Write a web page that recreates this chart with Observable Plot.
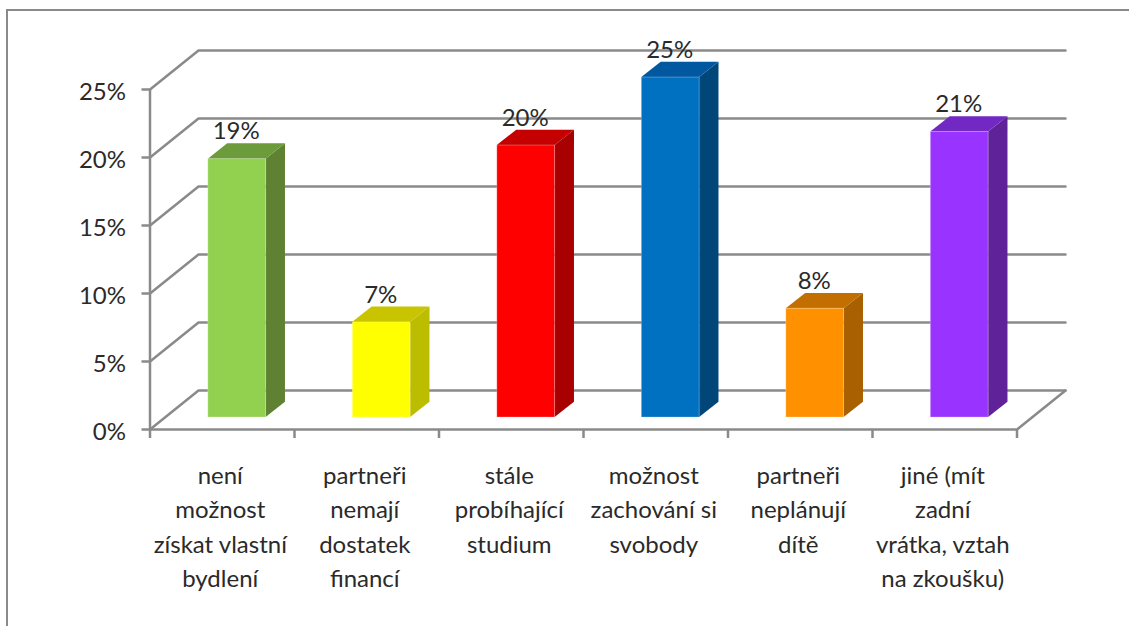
<!DOCTYPE html>
<html><head><meta charset="utf-8">
<script src="https://cdn.jsdelivr.net/npm/d3@7"></script>
<script src="https://cdn.jsdelivr.net/npm/@observablehq/plot@0.6"></script>
<style>
html,body{margin:0;padding:0;background:#fff;overflow:hidden}
#frame{position:absolute;left:6px;top:9px;right:-10px;bottom:-10px;border-left:2.5px solid #8a8a8a;border-top:2.5px solid #8a8a8a}
#chart{position:absolute;left:0;top:0}
</style></head><body>
<div id="frame"></div><div id="chart"></div>
<script>
const categories = [
  "není\nmožnost\nzískat vlastní\nbydlení",
  "partneři\nnemají\ndostatek\nfinancí",
  "stále\nprobíhající\nstudium",
  "možnost\nzachování si\nsvobody",
  "partneři\nneplánují\ndítě",
  "jiné (mít\nzadní\nvrátka, vztah\nna zkoušku)"
];
const values = [19, 7, 20, 25, 8, 21];
const yTicks = [0, 5, 10, 15, 20, 25];
const frontColors = ["#92D050", "#FFFF00", "#FF0000", "#0070C0", "#FF9000", "#9933FF"];
const topColors   = ["#6B9B3A", "#C9C400", "#C40000", "#0059A0", "#C26E00", "#7228C2"];
const sideColors  = ["#5E8232", "#BDBD00", "#A80000", "#004679", "#A86000", "#5F2299"];

// Depth of the 3D box, in data units (category steps and percent points)
const wallX = 0.3356, wallY = 2.868;
const barX0 = 0.4035, barW = 0.4, barLift = 0.88, depthX = 0.134, depthY = 1.125;

const bars = values.map((v, i) => ({
  i, v, label: categories[i], front: frontColors[i], top: topColors[i], side: sideColors[i],
  x1: i + barX0, x2: i + barX0 + barW, y1: barLift, y2: barLift + v
}));
const sidePts = bars.flatMap(b => [
  {b, x: b.x2, y1: b.y1, y2: b.y2},
  {b, x: b.x2 + depthX, y1: b.y1 + depthY, y2: b.y2 + depthY}
]);
const topPts = bars.flatMap(b => [
  {b, x: b.x1, y1: b.y2, y2: b.y2},
  {b, x: b.x1 + depthX, y1: b.y2, y2: b.y2 + depthY},
  {b, x: b.x2, y1: b.y2, y2: b.y2 + depthY},
  {b, x: b.x2 + depthX, y1: b.y2 + depthY, y2: b.y2 + depthY}
]);
const grid = yTicks.flatMap(t => [
  {t, x: 0, y: t},
  {t, x: wallX, y: t + wallY},
  {t, x: categories.length + wallX, y: t + wallY}
]);
const n = categories.length;
const axisColor = "#8a8a8a", sw = 2.5, font = 24, ink = "#2a2a2a";

const plot = Plot.plot({
  width: 1129, height: 626,
  marginLeft: 149.5, marginRight: 64, marginTop: 50, marginBottom: 197,
  style: {background: "transparent", fontFamily: "Lato, sans-serif", color: ink},
  x: {type: "linear", domain: [0, n + wallX]},
  y: {domain: [0, 25 + wallY]},
  color: {type: "identity"},
  marks: [
    Plot.line(grid, {x: "x", y: "y", z: "t", stroke: axisColor, strokeWidth: sw, curve: "linear"}),
    Plot.line([{x: n, y: 0}, {x: n + wallX, y: wallY}], {x: "x", y: "y", stroke: axisColor, strokeWidth: sw}),
    Plot.ruleY([0], {x1: 0, x2: n, stroke: axisColor, strokeWidth: sw}),
    Plot.ruleX([0], {y1: 0, y2: 25, stroke: axisColor, strokeWidth: sw}),
    Plot.axisY({ticks: yTicks, tickSize: 8, tickFormat: () => "", stroke: axisColor, strokeWidth: sw, strokeOpacity: 1, label: null}),
    Plot.axisX({ticks: d3.range(n + 1), tickSize: 9, tickFormat: () => "", stroke: axisColor, strokeWidth: sw, strokeOpacity: 1, label: null}),
    Plot.text(yTicks, {x: 0, y: d => d, text: d => d + "%", textAnchor: "end", dx: -24, dy: 2.5, fontSize: font, fill: ink}),
    Plot.areaY(sidePts, {x: "x", y1: "y1", y2: "y2", z: d => d.b.i, fill: d => d.b.side, curve: "linear"}),
    Plot.areaY(topPts, {x: "x", y1: "y1", y2: "y2", z: d => d.b.i, fill: d => d.b.top, curve: "linear"}),
    Plot.rect(bars, {x1: "x1", x2: "x2", y1: "y1", y2: "y2", fill: "front", stroke: "#fff", strokeOpacity: 0.25, strokeWidth: 1}),
    Plot.text(bars, {x: d => d.x1 + barW / 2, y: "y2", text: d => d.v + "%", dy: -27.5, dx: -1, fontSize: font, fill: ink}),
    Plot.text(bars, {x: d => d.i + 0.5, y: 0, text: "label", dy: 30, dx: -2, lineAnchor: "top", lineHeight: 34.5 / font, fontSize: font, fill: ink})
  ]
});
document.getElementById("chart").appendChild(plot);
</script>
</body></html>
